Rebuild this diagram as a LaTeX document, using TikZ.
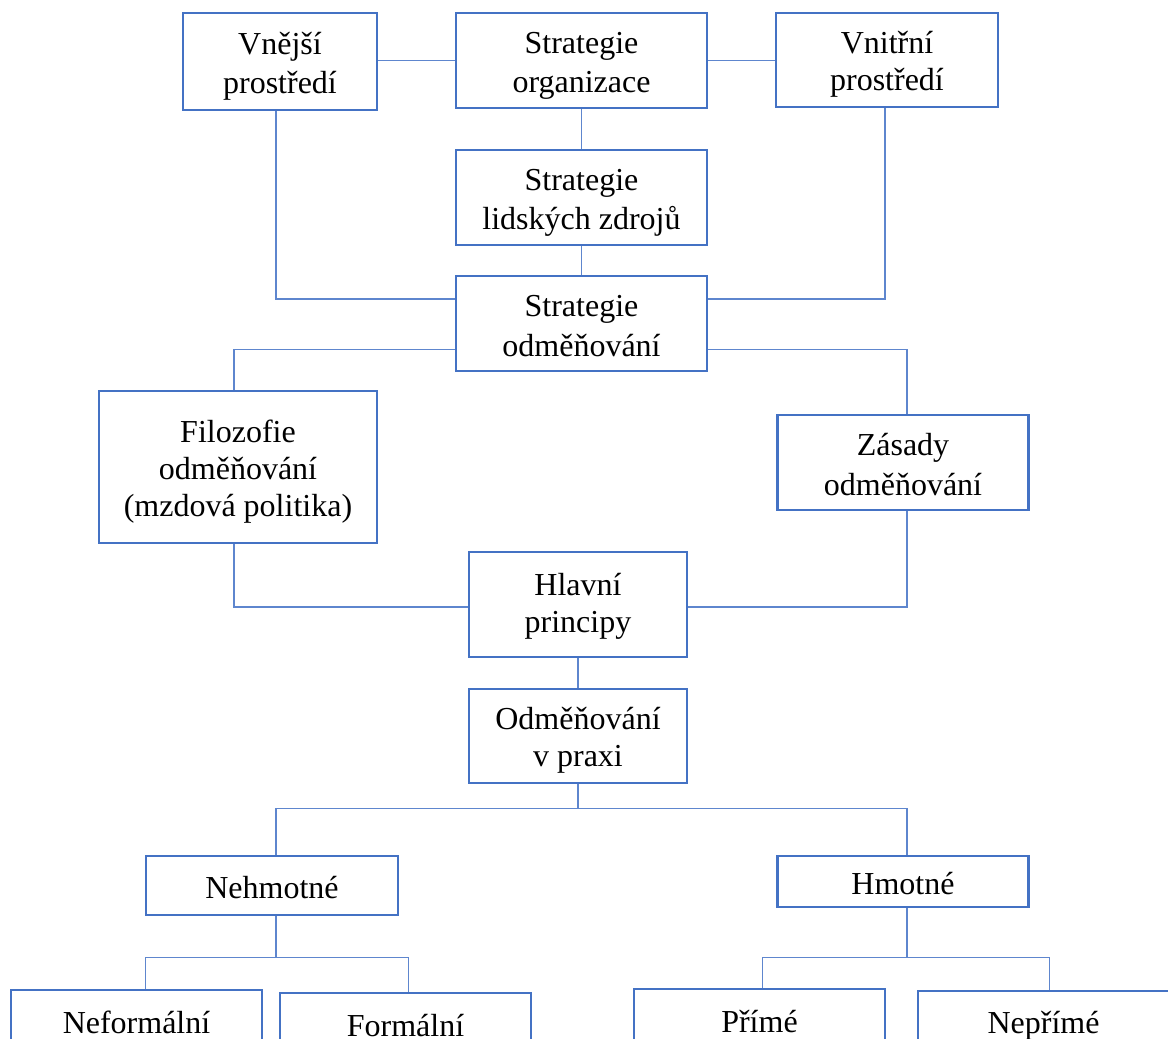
\documentclass[tikz,border=0pt]{standalone}
\usepackage{fontspec}
\setmainfont{Liberation Serif}
\usetikzlibrary{calc}
\definecolor{ramec}{HTML}{4472C4}
\definecolor{spoj}{HTML}{5E86CE}

\begin{document}
\begin{tikzpicture}[x=1pt,y=-1pt,
	blok/.style 2 args={draw=ramec,line width=2.5pt,align=flush center,inner sep=0pt,
		text width=#1pt,minimum width=#1pt,minimum height=#2pt,
		font=\fontsize{32}{37}\selectfont,
		execute at begin node={\rule[-5.5pt]{0pt}{37pt}},
		execute at end node={\rule[-5.5pt]{0pt}{37pt}}},
	spojka/.style={draw=spoj,line width=1.3pt}]
	\useasboundingbox (0,0) rectangle (1168,1039);
	\clip (0,0) rectangle (1168,1039);
	% horni rada
	\node[blok={194}{97}] (vnejsi) at (280,61.5) {Vnější\\prostředí};
	\node[blok={251}{95}] (strorg) at (581.5,60.5) {Strategie\\organizace};
	\node[blok={222}{94}] (vnitrni) at (887,60) {Vnitřní\\prostředí};
	\node[blok={251}{95}] (strlz) at (581.5,197.5) {Strategie\\lidských zdrojů};
	\node[blok={251}{95}] (strodm) at (581.5,323.5) {Strategie\\odměňování};
	% stredni cast
	\node[blok={278}{152}] (filoz) at (238,467) {Filozofie\\odměňování\\(mzdová politika)};
	\node[blok={251}{95}] (zasady) at (903,462.5) {Zásady\\odměňování};
	\node[blok={218}{105},execute at end node={\rule[-13.5pt]{0pt}{37pt}}] (hlavni) at (578,604.5) {Hlavní\\principy};
	\node[blok={218}{94}] (praxe) at (578,736) {Odměňování\\v praxi};
	% dolni cast
	\node[blok={252}{59}] (nehmot) at (272,885.5) {Nehmotné};
	\node[blok={251}{51}] (hmot) at (903,881.5) {Hmotné};
	\node[blok={251}{60}] (neform) at (136.5,1020) {Neformální};
	\node[blok={251}{60}] (form) at (405.5,1023) {Formální};
	\node[blok={251}{60}] (prime) at (759.5,1019) {Přímé};
	\node[blok={251}{60}] (neprime) at (1043.5,1021) {Nepřímé};
	% spoje
	\draw[spojka] (strorg.west) -- (strorg.west -| vnejsi.east);
	\draw[spojka] (strorg.east) -- (strorg.east -| vnitrni.west);
	\draw[spojka] (strorg) -- (strlz);
	\draw[spojka] (strlz) -- (strodm);
	\draw[spojka] ([xshift=-4pt]vnejsi.south) |- ($(strodm.north west)!0.25!(strodm.south west)$);
	\draw[spojka] ([xshift=-2pt]vnitrni.south) |- ($(strodm.north east)!0.25!(strodm.south east)$);
	\draw[spojka] ($(strodm.north west)!0.77!(strodm.south west)$) -| ([xshift=-4pt]filoz.north);
	\draw[spojka] ($(strodm.north east)!0.77!(strodm.south east)$) -| ([xshift=4pt]zasady.north);
	\draw[spojka] ([xshift=-4pt]filoz.south) |- ([yshift=-2.5pt]hlavni.west);
	\draw[spojka] ([xshift=4pt]zasady.south) |- ([yshift=-2.5pt]hlavni.east);
	\draw[spojka] (hlavni) -- (praxe);
	\draw[spojka] (praxe.south) -- ++(0,24) coordinate (rozc);
	\draw[spojka] (rozc) -| ([xshift=4pt]nehmot.north);
	\draw[spojka] (rozc) -| ([xshift=4pt]hmot.north);
	\draw[spojka] ([xshift=4pt]nehmot.south) -- ++(0,41) coordinate (rozn);
	\draw[spojka] (rozn) -| ([xshift=9pt]neform.north);
	\draw[spojka] (rozn) -| ([xshift=3pt]form.north);
	\draw[spojka] ([xshift=4pt]hmot.south) -- ++(0,49) coordinate (rozh);
	\draw[spojka] (rozh) -| ([xshift=3pt]prime.north);
	\draw[spojka] (rozh) -| ([xshift=6pt]neprime.north);
\end{tikzpicture}
\end{document}
